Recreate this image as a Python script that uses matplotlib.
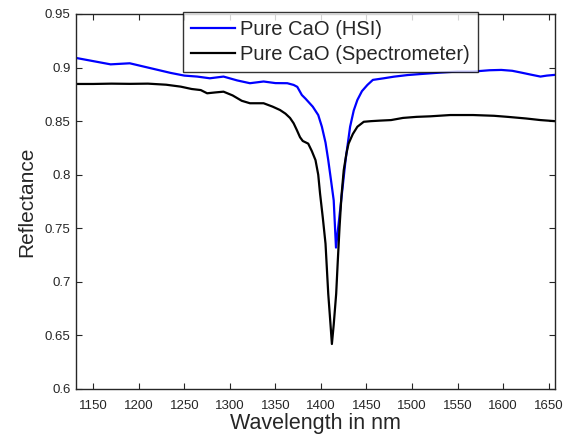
import matplotlib
matplotlib.use("Agg")
import matplotlib.pyplot as plt

# Data
hsi_wl = [1131, 1150, 1169, 1190, 1202, 1220, 1235, 1250, 1264, 1278, 1293, 1308,
          1322, 1337, 1350, 1363, 1370, 1374, 1379, 1383, 1391, 1397, 1401, 1405,
          1408, 1411, 1414, 1416.5, 1421, 1424, 1427, 1432, 1436, 1440, 1445, 1451,
          1457, 1469, 1480, 1495, 1510, 1531, 1550, 1567, 1585, 1598, 1610, 1620,
          1630, 1641, 1648, 1657]
hsi_val = [0.909, 0.906, 0.903, 0.904, 0.9016, 0.898, 0.895, 0.8925, 0.8916, 0.890,
           0.8916, 0.888, 0.8854, 0.887, 0.8855, 0.8854, 0.8838, 0.882, 0.8744, 0.871,
           0.8635, 0.8557, 0.8448, 0.830, 0.8136, 0.795, 0.776, 0.732, 0.7667, 0.79,
           0.8136, 0.8448, 0.860, 0.8698, 0.878, 0.8838, 0.8885, 0.890, 0.8915, 0.893,
           0.894, 0.8953, 0.8963, 0.8963, 0.8975, 0.8978, 0.897, 0.8953, 0.8935,
           0.8916, 0.8925, 0.8932]

spec_wl = [1131, 1150, 1170, 1190, 1210, 1230, 1246, 1258, 1268, 1275, 1284, 1293,
           1303, 1313, 1322, 1337, 1347, 1355, 1361, 1366, 1370, 1373.5, 1377, 1380,
           1386, 1390, 1394, 1397, 1399, 1402, 1405, 1408, 1410.5, 1412, 1414, 1416.7,
           1418.5, 1420.4, 1422.5, 1425, 1428, 1430.3, 1435, 1440, 1447, 1455, 1465,
           1477, 1490, 1505, 1520, 1542, 1567, 1590, 1605, 1625, 1641, 1657]
spec_val = [0.8847, 0.8847, 0.8850, 0.8848, 0.8850, 0.8840, 0.8822, 0.880, 0.879,
            0.876, 0.8768, 0.8775, 0.874, 0.869, 0.8667, 0.8667, 0.8635, 0.8604,
            0.857, 0.853, 0.848, 0.8417, 0.835, 0.8315, 0.829, 0.822, 0.8136, 0.800,
            0.7824, 0.760, 0.7356, 0.6888, 0.660, 0.642, 0.660, 0.6888, 0.72, 0.751,
            0.78, 0.8042, 0.820, 0.829, 0.838, 0.8448, 0.8494, 0.8500, 0.8505, 0.851,
            0.853, 0.854, 0.8545, 0.8557, 0.8557, 0.855, 0.854, 0.8525, 0.851, 0.850]

xticks = [1150, 1200, 1250, 1300, 1350, 1400, 1450, 1500, 1550, 1600, 1650]
yticks = [0.6, 0.65, 0.7, 0.75, 0.8, 0.85, 0.9, 0.95]
ytick_labels = ["0.6", "0.65", "0.7", "0.75", "0.8", "0.85", "0.9", "0.95"]

plt.rcParams['font.family'] = ['Liberation Sans', 'DejaVu Sans']
grey = '#262626'

fig = plt.figure(figsize=(5.64, 4.42), dpi=100)
ax = fig.add_axes([76/564, 53/442, 479/564, 375/442])

ax.plot(hsi_wl, hsi_val, color='#0000ff', lw=1.6, label='Pure CaO (HSI)')
ax.plot(spec_wl, spec_val, color='black', lw=1.6, label='Pure CaO (Spectrometer)')

ax.set_xlim(1131, 1657)
ax.set_ylim(0.6, 0.95)
ax.set_xticks(xticks)
ax.set_xticklabels([str(t) for t in xticks])
ax.set_yticks(yticks)
ax.set_yticklabels(ytick_labels)
ax.tick_params(direction='in', top=True, right=True, length=4, width=0.8,
               colors=grey, labelsize=9.5)
ax.tick_params(axis='x', pad=8)
ax.tick_params(axis='y', pad=4)
for s in ax.spines.values():
    s.set_color(grey)
    s.set_linewidth(1.0)

ax.set_xlabel('Wavelength in nm', fontsize=15.5, color=grey, labelpad=1)
ax.set_ylabel('Reflectance', fontsize=15, color=grey, labelpad=6)

leg = ax.legend(loc='upper left', bbox_to_anchor=(0.2234, 1.005), borderaxespad=0,
                fontsize=14.5, frameon=True, fancybox=False, handlelength=2.2,
                handletextpad=0.25, borderpad=0.4, labelspacing=0.3)
leg.get_frame().set_edgecolor('black')
leg.get_frame().set_linewidth(1.0)
for t in leg.get_texts():
    t.set_color(grey)

fig.savefig('out.png', dpi=100)
